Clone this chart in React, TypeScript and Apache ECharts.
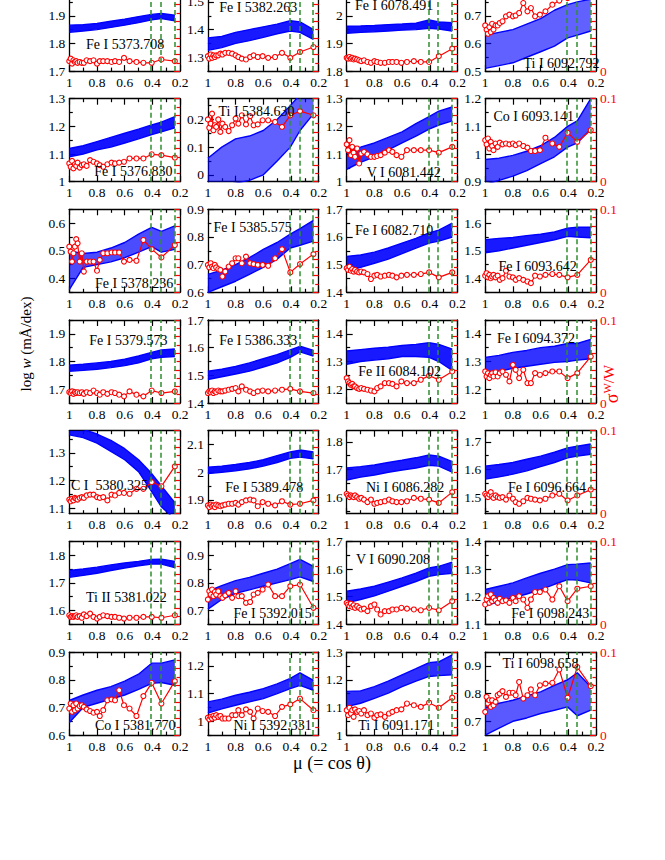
import React, { useEffect, useRef } from "react";
import * as echarts from "echarts";

// ---------- shared grids ----------
const MU = [1, 0.99, 0.98, 0.97, 0.96, 0.95, 0.94, 0.925, 0.91, 0.895, 0.875, 0.85, 0.825, 0.8, 0.78, 0.755, 0.725, 0.695, 0.67, 0.64, 0.605, 0.565, 0.515, 0.465, 0.405, 0.335, 0.238];
const BAND_MU = [1, 0.9, 0.8, 0.7, 0.6, 0.5, 0.405, 0.335, 0.238];
const GREEN_MU = [0.405, 0.335, 0.238];
const SIGMA_LABELS = [0, 0.1];

// ---------- row 1 ----------
const fe5373Low = [1.84, 1.845, 1.85, 1.858, 1.866, 1.875, 1.885, 1.89, 1.882];
const fe5373High = [1.866, 1.868, 1.872, 1.88, 1.888, 1.897, 1.905, 1.908, 1.902];
const fe5373Sigma = [0.012, 0.015, 0.009, 0.013, 0.011, 0.012, 0.010, 0.011, 0.010, 0.010, 0.013, 0.012, 0.013, 0.009, 0.012, 0.012, 0.012, 0.011, 0.012, 0.011, 0.016, 0.012, 0.011, 0.010, 0.010, 0.014, 0.012];

const fe5382Low = [1.325, 1.335, 1.35, 1.36, 1.372, 1.385, 1.395, 1.39, 1.365];
const fe5382High = [1.37, 1.375, 1.39, 1.4, 1.41, 1.42, 1.432, 1.428, 1.4];
const fe5382Sigma = [0.018, 0.015, 0.020, 0.016, 0.019, 0.017, 0.019, 0.019, 0.021, 0.020, 0.022, 0.022, 0.021, 0.019, 0.017, 0.015, 0.014, 0.017, 0.019, 0.017, 0.018, 0.016, 0.017, 0.022, 0.016, 0.023, 0.029];

const fe6078Low = [1.937, 1.94, 1.942, 1.945, 1.948, 1.95, 1.955, 1.952, 1.945];
const fe6078High = [1.962, 1.963, 1.965, 1.968, 1.97, 1.973, 1.985, 1.978, 1.975];
const fe6078Sigma = [0.016, 0.015, 0.017, 0.015, 0.016, 0.014, 0.015, 0.014, 0.013, 0.012, 0.013, 0.011, 0.010, 0.012, 0.011, 0.010, 0.010, 0.011, 0.011, 0.011, 0.010, 0.011, 0.012, 0.011, 0.011, 0.018, 0.027];

const ti6092Low = [0.51, 0.52, 0.53, 0.55, 0.57, 0.59, 0.62, 0.63, 0.645];
const ti6092High = [0.63, 0.64, 0.65, 0.67, 0.69, 0.72, 0.74, 0.75, 0.76];
const ti6092Sigma = [0.055, 0.050, 0.045, 0.053, 0.047, 0.057, 0.050, 0.055, 0.055, 0.058, 0.060, 0.066, 0.068, 0.066, 0.067, 0.070, 0.082, 0.072, 0.076, 0.066, 0.068, 0.072, 0.080, 0.085, 0.088, 0.090, 0.092];

// ---------- row 2 ----------
const fe5376Low = [1.09, 1.1, 1.115, 1.125, 1.14, 1.155, 1.17, 1.18, 1.195];
const fe5376High = [1.12, 1.13, 1.145, 1.16, 1.175, 1.19, 1.205, 1.215, 1.235];
const fe5376Sigma = [0.022, 0.018, 0.025, 0.016, 0.021, 0.019, 0.023, 0.017, 0.020, 0.021, 0.019, 0.026, 0.024, 0.022, 0.020, 0.018, 0.021, 0.023, 0.022, 0.023, 0.024, 0.028, 0.028, 0.028, 0.033, 0.032, 0.029];

const ti5384Low = [-0.04, -0.04, -0.03, -0.02, 0.0, 0.05, 0.1, 0.16, 0.22];
const ti5384High = [0.06, 0.1, 0.13, 0.14, 0.16, 0.2, 0.25, 0.29, 0.31];
const ti5384Sigma = [0.075, 0.065, 0.070, 0.082, 0.062, 0.068, 0.066, 0.075, 0.060, 0.070, 0.066, 0.061, 0.068, 0.076, 0.070, 0.080, 0.069, 0.079, 0.068, 0.069, 0.074, 0.074, 0.072, 0.066, 0.080, 0.085, 0.080];

const v6081Low = [1.045, 1.07, 1.09, 1.115, 1.14, 1.165, 1.19, 1.205, 1.22];
const v6081High = [1.115, 1.125, 1.14, 1.16, 1.18, 1.21, 1.235, 1.255, 1.27];
const v6081Sigma = [0.045, 0.038, 0.050, 0.032, 0.042, 0.035, 0.030, 0.040, 0.022, 0.034, 0.036, 0.033, 0.030, 0.030, 0.031, 0.032, 0.035, 0.038, 0.036, 0.032, 0.030, 0.038, 0.038, 0.038, 0.038, 0.035, 0.042];

const co6093Low = [0.89, 0.905, 0.92, 0.94, 0.965, 0.99, 1.025, 1.04, 1.09];
const co6093High = [0.98, 0.985, 0.995, 1.01, 1.03, 1.06, 1.1, 1.12, 1.2];
const co6093Sigma = [0.050, 0.045, 0.052, 0.040, 0.048, 0.043, 0.038, 0.046, 0.042, 0.047, 0.045, 0.046, 0.045, 0.046, 0.044, 0.046, 0.043, 0.041, 0.037, 0.037, 0.038, 0.053, 0.046, 0.042, 0.059, 0.048, 0.062];

// ---------- row 3 ----------
const fe5378Low = [0.36, 0.44, 0.45, 0.46, 0.475, 0.495, 0.515, 0.495, 0.505];
const fe5378High = [0.5, 0.49, 0.495, 0.51, 0.53, 0.56, 0.585, 0.57, 0.59];
const fe5378Sigma = [0.055, 0.049, 0.037, 0.047, 0.055, 0.064, 0.059, 0.037, 0.047, 0.025, 0.037, 0.037, 0.037, 0.026, 0.039, 0.047, 0.047, 0.048, 0.048, 0.048, 0.037, 0.039, 0.038, 0.063, 0.052, 0.042, 0.057];

const fe5385Low = [0.6, 0.62, 0.64, 0.665, 0.69, 0.72, 0.76, 0.77, 0.785];
const fe5385High = [0.665, 0.68, 0.7, 0.725, 0.755, 0.78, 0.81, 0.83, 0.86];
const fe5385Sigma = [0.033, 0.030, 0.035, 0.031, 0.029, 0.033, 0.030, 0.028, 0.027, 0.019, 0.025, 0.031, 0.035, 0.041, 0.041, 0.035, 0.043, 0.035, 0.034, 0.033, 0.033, 0.032, 0.041, 0.052, 0.024, 0.034, 0.046];

const fe6082Low = [1.476, 1.49, 1.505, 1.52, 1.54, 1.56, 1.578, 1.585, 1.6];
const fe6082High = [1.53, 1.535, 1.545, 1.56, 1.578, 1.595, 1.615, 1.625, 1.65];
const fe6082Sigma = [0.029, 0.027, 0.031, 0.026, 0.028, 0.025, 0.027, 0.025, 0.024, 0.025, 0.024, 0.022, 0.016, 0.020, 0.021, 0.019, 0.020, 0.021, 0.020, 0.018, 0.020, 0.021, 0.021, 0.022, 0.024, 0.018, 0.024];

const fe6093Low = [1.493, 1.5, 1.51, 1.52, 1.53, 1.54, 1.552, 1.55, 1.547];
const fe6093High = [1.54, 1.545, 1.548, 1.555, 1.56, 1.568, 1.582, 1.585, 1.585];
const fe6093Sigma = [0.020, 0.023, 0.018, 0.021, 0.017, 0.019, 0.021, 0.018, 0.020, 0.015, 0.017, 0.026, 0.019, 0.018, 0.015, 0.017, 0.015, 0.013, 0.011, 0.020, 0.019, 0.021, 0.022, 0.021, 0.018, 0.021, 0.039];

// ---------- row 4 ----------
const fe5379Low = [1.765, 1.768, 1.772, 1.778, 1.785, 1.795, 1.81, 1.815, 1.818];
const fe5379High = [1.787, 1.79, 1.795, 1.8, 1.808, 1.82, 1.833, 1.842, 1.845];
const fe5379Sigma = [0.013, 0.012, 0.014, 0.011, 0.013, 0.012, 0.013, 0.012, 0.013, 0.011, 0.013, 0.012, 0.015, 0.012, 0.010, 0.013, 0.011, 0.013, 0.012, 0.010, 0.008, 0.014, 0.010, 0.008, 0.015, 0.012, 0.014];

const fe5386Low = [1.485, 1.495, 1.505, 1.515, 1.53, 1.545, 1.565, 1.585, 1.57];
const fe5386High = [1.515, 1.522, 1.532, 1.545, 1.56, 1.575, 1.592, 1.605, 1.59];
const fe5386Sigma = [0.012, 0.014, 0.013, 0.015, 0.012, 0.014, 0.013, 0.015, 0.014, 0.014, 0.015, 0.016, 0.017, 0.018, 0.014, 0.020, 0.016, 0.014, 0.012, 0.014, 0.015, 0.014, 0.015, 0.016, 0.017, 0.014, 0.012];

const fe6084Low = [1.29, 1.3, 1.305, 1.31, 1.318, 1.318, 1.315, 1.3, 1.268];
const fe6084High = [1.338, 1.343, 1.348, 1.352, 1.358, 1.362, 1.368, 1.362, 1.345];
const fe6084Sigma = [0.030, 0.026, 0.024, 0.022, 0.023, 0.020, 0.020, 0.018, 0.017, 0.018, 0.017, 0.016, 0.015, 0.014, 0.018, 0.020, 0.024, 0.024, 0.023, 0.020, 0.026, 0.024, 0.024, 0.028, 0.033, 0.028, 0.038];

const fe6094Low = [1.255, 1.265, 1.275, 1.283, 1.29, 1.297, 1.3, 1.305, 1.31];
const fe6094High = [1.315, 1.322, 1.333, 1.34, 1.35, 1.355, 1.365, 1.365, 1.38];
const fe6094Sigma = [0.038, 0.032, 0.036, 0.030, 0.034, 0.036, 0.032, 0.037, 0.032, 0.036, 0.038, 0.034, 0.026, 0.046, 0.040, 0.030, 0.040, 0.024, 0.024, 0.036, 0.034, 0.036, 0.038, 0.038, 0.030, 0.036, 0.056];

// ---------- row 5 ----------
const c5380Low = [1.365, 1.355, 1.335, 1.305, 1.275, 1.232, 1.16, 1.105, 1.06];
const c5380High = [1.395, 1.385, 1.368, 1.345, 1.315, 1.275, 1.225, 1.18, 1.12];
const c5380Sigma = [0.017, 0.015, 0.018, 0.016, 0.019, 0.018, 0.017, 0.019, 0.020, 0.019, 0.022, 0.023, 0.023, 0.020, 0.019, 0.020, 0.016, 0.023, 0.022, 0.025, 0.025, 0.024, 0.030, 0.030, 0.038, 0.033, 0.057];

const fe5389Low = [1.995, 2.0, 2.005, 2.012, 2.022, 2.035, 2.05, 2.055, 2.048];
const fe5389High = [2.018, 2.022, 2.028, 2.035, 2.045, 2.06, 2.073, 2.08, 2.073];
const fe5389Sigma = [0.010, 0.008, 0.011, 0.009, 0.010, 0.008, 0.011, 0.010, 0.009, 0.010, 0.011, 0.012, 0.012, 0.013, 0.011, 0.014, 0.016, 0.017, 0.016, 0.009, 0.014, 0.012, 0.010, 0.015, 0.011, 0.012, 0.016];

const ni6086Low = [1.662, 1.672, 1.68, 1.69, 1.698, 1.705, 1.715, 1.712, 1.69];
const ni6086High = [1.705, 1.71, 1.716, 1.725, 1.733, 1.742, 1.752, 1.748, 1.728];
const ni6086Sigma = [0.024, 0.022, 0.020, 0.022, 0.021, 0.020, 0.022, 0.020, 0.018, 0.019, 0.017, 0.014, 0.017, 0.012, 0.013, 0.014, 0.015, 0.017, 0.015, 0.014, 0.014, 0.015, 0.019, 0.018, 0.017, 0.013, 0.026];

const fe6096Low = [1.565, 1.573, 1.583, 1.595, 1.61, 1.625, 1.642, 1.648, 1.655];
const fe6096High = [1.612, 1.618, 1.625, 1.637, 1.648, 1.662, 1.678, 1.684, 1.692];
const fe6096Sigma = [0.024, 0.022, 0.020, 0.023, 0.026, 0.021, 0.019, 0.022, 0.020, 0.019, 0.020, 0.017, 0.022, 0.018, 0.014, 0.012, 0.015, 0.019, 0.018, 0.017, 0.016, 0.018, 0.022, 0.024, 0.016, 0.022, 0.029];

// ---------- row 6 ----------
const ti5381Low = [1.72, 1.727, 1.735, 1.745, 1.754, 1.762, 1.768, 1.768, 1.755];
const ti5381High = [1.745, 1.75, 1.757, 1.765, 1.772, 1.778, 1.785, 1.786, 1.778];
const ti5381Sigma = [0.011, 0.009, 0.010, 0.009, 0.010, 0.011, 0.009, 0.010, 0.008, 0.012, 0.010, 0.013, 0.009, 0.007, 0.009, 0.011, 0.010, 0.009, 0.009, 0.008, 0.007, 0.008, 0.008, 0.009, 0.009, 0.008, 0.011];

const fe5392Low = [0.705, 0.74, 0.762, 0.775, 0.788, 0.8, 0.812, 0.822, 0.805];
const fe5392High = [0.77, 0.79, 0.808, 0.82, 0.835, 0.85, 0.87, 0.885, 0.86];
const fe5392Sigma = [0.030, 0.040, 0.036, 0.042, 0.034, 0.039, 0.036, 0.040, 0.034, 0.032, 0.035, 0.038, 0.032, 0.040, 0.034, 0.034, 0.026, 0.027, 0.036, 0.038, 0.042, 0.048, 0.034, 0.034, 0.046, 0.048, 0.020];

const v6090Low = [1.478, 1.49, 1.503, 1.52, 1.538, 1.555, 1.574, 1.58, 1.585];
const v6090High = [1.52, 1.528, 1.538, 1.553, 1.568, 1.585, 1.604, 1.61, 1.625];
const v6090Sigma = [0.026, 0.024, 0.022, 0.025, 0.021, 0.023, 0.020, 0.022, 0.020, 0.018, 0.019, 0.016, 0.022, 0.024, 0.018, 0.012, 0.016, 0.016, 0.018, 0.018, 0.020, 0.019, 0.018, 0.017, 0.020, 0.017, 0.028];

const fe6098Low = [1.168, 1.182, 1.196, 1.21, 1.226, 1.245, 1.262, 1.26, 1.25];
const fe6098High = [1.226, 1.238, 1.25, 1.268, 1.285, 1.3, 1.316, 1.318, 1.322];
const fe6098Sigma = [0.024, 0.030, 0.034, 0.026, 0.036, 0.028, 0.032, 0.029, 0.026, 0.031, 0.028, 0.029, 0.026, 0.032, 0.028, 0.034, 0.030, 0.020, 0.030, 0.039, 0.039, 0.042, 0.030, 0.046, 0.028, 0.043, 0.046];

// ---------- row 7 ----------
const co5381Low = [0.645, 0.7, 0.715, 0.73, 0.745, 0.765, 0.787, 0.79, 0.78];
const co5381High = [0.725, 0.745, 0.762, 0.775, 0.795, 0.82, 0.86, 0.86, 0.872];
const co5381Sigma = [0.032, 0.038, 0.028, 0.036, 0.030, 0.038, 0.032, 0.035, 0.036, 0.034, 0.031, 0.029, 0.027, 0.028, 0.023, 0.030, 0.042, 0.043, 0.042, 0.054, 0.036, 0.032, 0.023, 0.047, 0.063, 0.038, 0.065];

const ni5392Low = [1.03, 1.045, 1.058, 1.07, 1.082, 1.1, 1.118, 1.13, 1.112];
const ni5392High = [1.07, 1.08, 1.094, 1.105, 1.118, 1.135, 1.155, 1.175, 1.148];
const ni5392Sigma = [0.021, 0.019, 0.022, 0.020, 0.023, 0.021, 0.024, 0.022, 0.023, 0.020, 0.020, 0.020, 0.024, 0.024, 0.030, 0.024, 0.031, 0.028, 0.020, 0.032, 0.029, 0.028, 0.023, 0.034, 0.037, 0.044, 0.030];

const ti6091Low = [1.103, 1.115, 1.133, 1.152, 1.175, 1.195, 1.212, 1.215, 1.218];
const ti6091High = [1.158, 1.16, 1.175, 1.195, 1.218, 1.24, 1.262, 1.265, 1.29];
const ti6091Sigma = [0.030, 0.024, 0.033, 0.026, 0.030, 0.022, 0.031, 0.028, 0.029, 0.026, 0.030, 0.024, 0.026, 0.021, 0.024, 0.025, 0.022, 0.026, 0.028, 0.030, 0.031, 0.038, 0.036, 0.034, 0.039, 0.033, 0.045];

const ti6098Low = [0.65, 0.675, 0.7, 0.712, 0.728, 0.74, 0.752, 0.72, 0.74];
const ti6098High = [0.75, 0.765, 0.776, 0.792, 0.806, 0.83, 0.85, 0.875, 0.825];
const ti6098Sigma = [0.028, 0.046, 0.038, 0.042, 0.034, 0.042, 0.036, 0.040, 0.048, 0.050, 0.053, 0.046, 0.051, 0.051, 0.048, 0.064, 0.044, 0.048, 0.055, 0.048, 0.060, 0.062, 0.063, 0.079, 0.045, 0.082, 0.059];

// ---------- panel table (row-major) ----------
const LINE_NAMES = [
  "Fe I 5373.708", "Fe I 5382.263", "Fe I 6078.491", "Ti I 6092.792",
  "Fe I 5376.830", "Ti I 5384.630", "V I 6081.442", "Co I 6093.141",
  "Fe I 5378.236", "Fe I 5385.575", "Fe I 6082.710", "Fe I 6093.642",
  "Fe I 5379.573", "Fe I 5386.333", "Fe II 6084.102", "Fe I 6094.372",
  "C I\u00a0\u00a05380.325", "Fe I 5389.478", "Ni I 6086.282", "Fe I 6096.664",
  "Ti II 5381.022", "Fe I 5392.015", "V I 6090.208", "Fe I 6098.243",
  "Co I 5381.770", "Ni I 5392.331", "Ti I 6091.171", "Ti I 6098.658",
];
const Y_MIN = [1.7, 1.25, 1.8, 0.5, 1.0, -0.025, 1.0, 0.9, 0.35, 0.6, 1.4, 1.35, 1.65, 1.4, 1.15, 1.15, 1.08, 1.85, 1.54, 1.44, 1.55, 0.65, 1.4, 1.1, 0.6, 0.95, 1.0, 0.65];
const Y_MAX = [2.0, 1.55, 2.1, 0.8, 1.3, 0.275, 1.3, 1.2, 0.65, 0.9, 1.7, 1.65, 1.95, 1.7, 1.45, 1.45, 1.38, 2.15, 1.84, 1.74, 1.85, 0.95, 1.7, 1.4, 0.9, 1.25, 1.3, 0.95];
const LOWS = [fe5373Low, fe5382Low, fe6078Low, ti6092Low, fe5376Low, ti5384Low, v6081Low, co6093Low, fe5378Low, fe5385Low, fe6082Low, fe6093Low, fe5379Low, fe5386Low, fe6084Low, fe6094Low, c5380Low, fe5389Low, ni6086Low, fe6096Low, ti5381Low, fe5392Low, v6090Low, fe6098Low, co5381Low, ni5392Low, ti6091Low, ti6098Low];
const HIGHS = [fe5373High, fe5382High, fe6078High, ti6092High, fe5376High, ti5384High, v6081High, co6093High, fe5378High, fe5385High, fe6082High, fe6093High, fe5379High, fe5386High, fe6084High, fe6094High, c5380High, fe5389High, ni6086High, fe6096High, ti5381High, fe5392High, v6090High, fe6098High, co5381High, ni5392High, ti6091High, ti6098High];
const SIGMAS = [fe5373Sigma, fe5382Sigma, fe6078Sigma, ti6092Sigma, fe5376Sigma, ti5384Sigma, v6081Sigma, co6093Sigma, fe5378Sigma, fe5385Sigma, fe6082Sigma, fe6093Sigma, fe5379Sigma, fe5386Sigma, fe6084Sigma, fe6094Sigma, c5380Sigma, fe5389Sigma, ni6086Sigma, fe6096Sigma, ti5381Sigma, fe5392Sigma, v6090Sigma, fe6098Sigma, co5381Sigma, ni5392Sigma, ti6091Sigma, ti6098Sigma];

// ---------- layout / style (pixels) ----------
const OY = 20;
const COL_LEFT = [69.3, 207.9, 346.7, 485.2];
const ROW_TOP = [-11.9, 98.7, 209.3, 320, 430.7, 541.4, 652.1];
const PW = 110.8;
const PH = 83;
const LABEL_OFFSET = [
  [16.7, 56], [11.3, 19.2], [8.3, 17], [38.3, 75.2],
  [25, 73], [10.6, 12.3], [20, 73.6], [8.3, 17.3],
  [25.7, 73.7], [5.6, 17.7], [8.3, 21], [13.3, 56.7],
  [20, 20.7], [11.3, 20.7], [11.6, 51.7], [11.7, 18.3],
  [1.7, 54.3], [17.3, 56.6], [19.3, 56.6], [22.7, 56.6],
  [16.7, 56], [25.6, 72.3], [9.3, 18.3], [26, 72.3],
  [25.7, 73.7], [25.6, 73.7], [11.6, 73.7], [17.3, 11],
];
// fill strength of each panel's blue band (denser bundles look solid)
const BAND_ALPHA = [
  0.95, 0.9, 0.95, 0.62,
  0.92, 0.62, 0.8, 0.7,
  0.7, 0.82, 0.9, 0.9,
  0.95, 0.92, 0.9, 0.8,
  0.92, 0.95, 0.9, 0.9,
  0.95, 0.78, 0.9, 0.8,
  0.78, 0.85, 0.82, 0.65,
];

const FONT = '"Liberation Serif", "Times New Roman", serif';
const BLUE = "#0000ff";
const RED = "#ff0000";
const GREEN = "#2f8f2f";
const BLACK = "#000000";

const fmt1 = (v: number) => String(Math.round(v * 10) / 10);

function majorMinor(min: number, max: number) {
  const majors: number[] = [];
  const minors: number[] = [];
  for (let k = Math.floor(min * 10) - 1; k <= Math.ceil(max * 10) + 1; k++) {
    const a = k / 10;
    const b = (k + 0.5) / 10;
    if (a >= min - 1e-9 && a <= max + 1e-9) majors.push(Math.round(a * 10) / 10);
    if (b >= min - 1e-9 && b <= max + 1e-9) minors.push(Math.round(b * 100) / 100);
  }
  return { majors, minors };
}

function buildOption() {
  const grid: any[] = [];
  const xAxis: any[] = [];
  const yAxis: any[] = [];
  const series: any[] = [];
  const graphic: any[] = [];
  const lineW = 1.3;

  LINE_NAMES.forEach((name, i) => {
    const r = Math.floor(i / 4);
    const c = i % 4;
    const left = COL_LEFT[c];
    const top = ROW_TOP[r] + OY;
    grid.push({ left, top, width: PW, height: PH, show: false });

    const xBase = {
      type: "value", gridIndex: i, inverse: true, min: 0.2, max: 1, interval: 0.2,
      axisLine: { show: true, onZero: false, lineStyle: { color: BLACK, width: lineW } },
      axisTick: { show: true, inside: true, length: 6, lineStyle: { color: BLACK, width: 1.2 } },
      minorTick: { show: true, splitNumber: 2, length: 3.5, lineStyle: { color: BLACK, width: 1.2 } },
      splitLine: { show: false },
    };
    xAxis.push({
      ...xBase, position: "bottom",
      axisLabel: { show: true, margin: 4, fontFamily: FONT, fontSize: 13.5, color: BLACK, formatter: fmt1 },
    });
    xAxis.push({ ...xBase, position: "top", axisLabel: { show: false } });

    const { majors, minors } = majorMinor(Y_MIN[i], Y_MAX[i]);
    yAxis.push({
      type: "value", gridIndex: i, position: "left", min: Y_MIN[i], max: Y_MAX[i],
      axisLine: { show: true, onZero: false, lineStyle: { color: BLACK, width: lineW } },
      axisTick: { show: true, inside: true, length: 6, customValues: majors, lineStyle: { color: BLACK, width: 1.2 } },
      axisLabel: { show: true, customValues: majors, margin: 4, fontFamily: FONT, fontSize: 13.5, color: BLACK, formatter: fmt1 },
      splitLine: { show: false },
    });
    yAxis.push({
      type: "value", gridIndex: i, position: "left", min: Y_MIN[i], max: Y_MAX[i],
      axisLine: { show: false },
      axisTick: { show: true, inside: true, length: 3.5, customValues: minors, lineStyle: { color: BLACK, width: 1.2 } },
      axisLabel: { show: false },
      splitLine: { show: false },
    });
    yAxis.push({
      type: "value", gridIndex: i, position: "right", min: 0, max: 0.1, interval: 0.02,
      axisLine: { show: true, onZero: false, lineStyle: { color: BLACK, width: lineW } },
      axisTick: { show: true, inside: true, length: 6, lineStyle: { color: RED, width: 1.2 } },
      minorTick: { show: true, splitNumber: 2, length: 3.5, lineStyle: { color: RED, width: 1.2 } },
      axisLabel: { show: c === 3, customValues: SIGMA_LABELS, margin: 4, fontFamily: FONT, fontSize: 13.5, color: RED, formatter: fmt1 },
      splitLine: { show: false },
    });

    const low = LOWS[i];
    const high = HIGHS[i];
    const xi = 2 * i;
    const yi = 3 * i;
    const alpha = BAND_ALPHA[i];
    // blue band of the many model curves: polygon between low and high envelope
    series.push({
      type: "custom", xAxisIndex: xi, yAxisIndex: yi, clip: true, silent: true, z: 2,
      data: BAND_MU.map((m, k) => [m, low[k], high[k]]),
      encode: { x: 0, y: [1, 2] },
      renderItem: (params: any, api: any) => {
        if (params.dataIndex !== 0) return null;
        const pts: number[][] = [];
        for (let k = 0; k < BAND_MU.length; k++) pts.push(api.coord([BAND_MU[k], low[k]]));
        for (let k = BAND_MU.length - 1; k >= 0; k--) pts.push(api.coord([BAND_MU[k], high[k]]));
        return { type: "polygon", shape: { points: pts }, style: { fill: BLUE, opacity: alpha } };
      },
    });
    series.push({
      type: "line", xAxisIndex: xi, yAxisIndex: yi,
      data: BAND_MU.map((m, k) => [m, low[k]]), symbol: "none",
      lineStyle: { color: BLUE, width: 1.4 }, z: 2, silent: true,
    });
    series.push({
      type: "line", xAxisIndex: xi, yAxisIndex: yi,
      data: BAND_MU.map((m, k) => [m, high[k]]), symbol: "none",
      lineStyle: { color: BLUE, width: 1.4 }, z: 2, silent: true,
    });
    series.push({
      type: "line", xAxisIndex: xi, yAxisIndex: yi, data: [], z: 3, silent: true,
      markLine: {
        silent: true, symbol: "none", label: { show: false },
        lineStyle: { color: GREEN, type: [5, 3], width: 1.5 },
        data: GREEN_MU.map((m) => ({ xAxis: m })),
      },
    });
    series.push({
      type: "line", xAxisIndex: xi, yAxisIndex: yi + 2,
      data: MU.map((m, k) => [m, SIGMAS[i][k]]),
      symbol: "circle", symbolSize: 5, showAllSymbol: true,
      itemStyle: { color: "#ffffff", borderColor: RED, borderWidth: 1.1 },
      lineStyle: { color: RED, width: 1.2 }, z: 4, silent: true,
    });

    graphic.push({
      type: "text", x: left + LABEL_OFFSET[i][0], y: top + LABEL_OFFSET[i][1], z: 100, silent: true,
      style: { text: name, fontFamily: FONT, fontSize: 14, fill: BLACK, align: "left", verticalAlign: "middle" },
    });
  });

  graphic.push({
    type: "text", x: 26, y: 344 + OY, rotation: Math.PI / 2, z: 100, silent: true,
    style: {
      text: "{n|log }{i|w}{n| (mÅ/dex)}", align: "center", verticalAlign: "middle",
      rich: {
        n: { fontFamily: FONT, fontSize: 15, fill: BLACK },
        i: { fontFamily: FONT, fontSize: 15, fontStyle: "italic", fill: BLACK },
      },
    },
  });
  graphic.push({
    type: "text", x: 332, y: 763 + OY, z: 100, silent: true,
    style: { text: "μ (= cos θ)", fontFamily: FONT, fontSize: 18, fill: BLACK, align: "center", verticalAlign: "middle" },
  });
  graphic.push({
    type: "text", x: 611, y: 384 + OY, rotation: Math.PI / 2, z: 100, silent: true,
    style: {
      text: "{s|σ}{p|W}{m|/W}", align: "center", verticalAlign: "middle",
      rich: {
        s: { fontFamily: FONT, fontSize: 18, fill: RED, lineHeight: 20, verticalAlign: "bottom" },
        p: { fontFamily: FONT, fontSize: 11, fill: RED, lineHeight: 20, verticalAlign: "top" },
        m: { fontFamily: FONT, fontSize: 15, fill: RED, lineHeight: 20, verticalAlign: "top" },
      },
    },
  });

  return { animation: false, backgroundColor: "#ffffff", grid, xAxis, yAxis, series, graphic };
}

export default function App() {
  const ref = useRef<HTMLDivElement>(null);
  useEffect(() => {
    const chart = echarts.init(ref.current as HTMLDivElement, null, { renderer: "svg" });
    chart.setOption(buildOption() as any);
    return () => chart.dispose();
  }, []);
  return (
    <div
      ref={ref}
      style={{ position: "absolute", left: 0, top: -OY, width: 665, height: 860 + OY }}
    />
  );
}
